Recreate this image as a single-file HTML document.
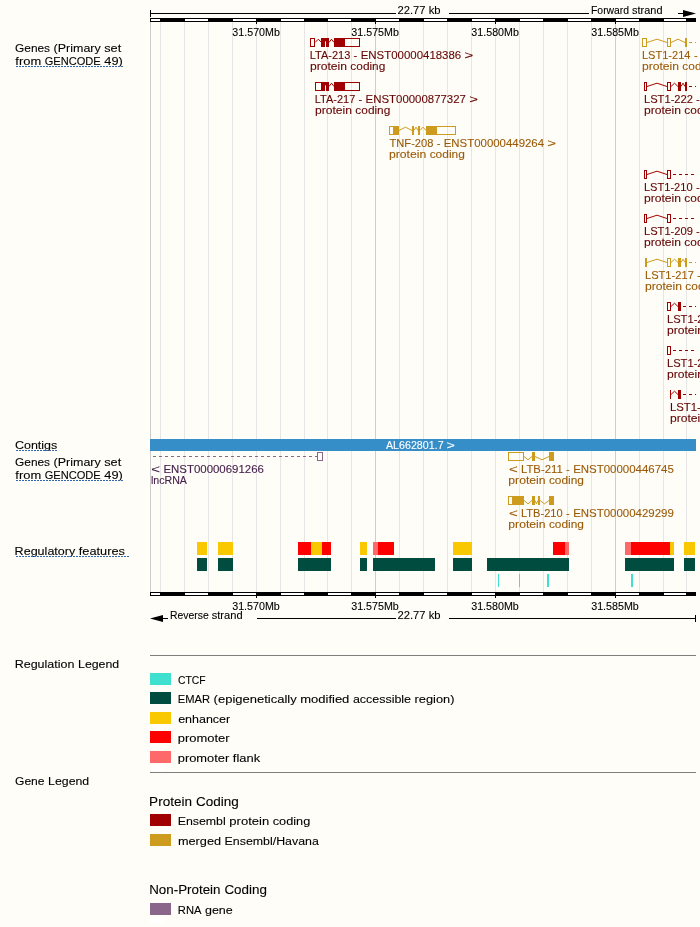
<!DOCTYPE html>
<html><head><meta charset="utf-8"><title>Region in detail</title>
<style>
html,body{margin:0;padding:0;background:#FFFDF7;}
svg{display:block;font-family:"Liberation Sans",sans-serif;will-change:transform;}
text{font-family:"Liberation Sans",sans-serif;}
</style></head><body>
<svg width="700" height="927" viewBox="0 0 700 927">
<rect x="0" y="0" width="700" height="927" fill="#FFFDF7"/>
<g shape-rendering="crispEdges">
<rect x="150" y="22" width="1" height="570" fill="#CECECE" />
<rect x="160" y="22" width="1" height="570" fill="#E6E6E6" />
<rect x="184" y="22" width="1" height="570" fill="#E6E6E6" />
<rect x="208" y="22" width="1" height="570" fill="#E6E6E6" />
<rect x="232" y="22" width="1" height="570" fill="#E6E6E6" />
<rect x="256" y="22" width="1" height="570" fill="#E6E6E6" />
<rect x="280" y="22" width="1" height="570" fill="#E6E6E6" />
<rect x="304" y="22" width="1" height="570" fill="#E6E6E6" />
<rect x="327" y="22" width="1" height="570" fill="#E6E6E6" />
<rect x="351" y="22" width="1" height="570" fill="#E6E6E6" />
<rect x="375" y="22" width="1" height="570" fill="#CECECE" />
<rect x="399" y="22" width="1" height="570" fill="#E6E6E6" />
<rect x="423" y="22" width="1" height="570" fill="#E6E6E6" />
<rect x="447" y="22" width="1" height="570" fill="#E6E6E6" />
<rect x="471" y="22" width="1" height="570" fill="#E6E6E6" />
<rect x="495" y="22" width="1" height="570" fill="#E6E6E6" />
<rect x="519" y="22" width="1" height="570" fill="#E6E6E6" />
<rect x="543" y="22" width="1" height="570" fill="#E6E6E6" />
<rect x="567" y="22" width="1" height="570" fill="#E6E6E6" />
<rect x="591" y="22" width="1" height="570" fill="#E6E6E6" />
<rect x="615" y="22" width="1" height="570" fill="#CECECE" />
<rect x="639" y="22" width="1" height="570" fill="#E6E6E6" />
<rect x="663" y="22" width="1" height="570" fill="#E6E6E6" />
<rect x="686" y="22" width="1" height="570" fill="#E6E6E6" />
<rect x="150" y="18" width="546" height="4" fill="#000" />
<rect x="151" y="19" width="9" height="2" fill="#fff" />
<rect x="185" y="19" width="23" height="2" fill="#fff" />
<rect x="233" y="19" width="23" height="2" fill="#fff" />
<rect x="281" y="19" width="23" height="2" fill="#fff" />
<rect x="328" y="19" width="23" height="2" fill="#fff" />
<rect x="376" y="19" width="23" height="2" fill="#fff" />
<rect x="424" y="19" width="23" height="2" fill="#fff" />
<rect x="472" y="19" width="23" height="2" fill="#fff" />
<rect x="520" y="19" width="23" height="2" fill="#fff" />
<rect x="568" y="19" width="23" height="2" fill="#fff" />
<rect x="616" y="19" width="23" height="2" fill="#fff" />
<rect x="664" y="19" width="22" height="2" fill="#fff" />
<rect x="150" y="592" width="546" height="4" fill="#000" />
<rect x="151" y="593" width="9" height="2" fill="#fff" />
<rect x="185" y="593" width="23" height="2" fill="#fff" />
<rect x="233" y="593" width="23" height="2" fill="#fff" />
<rect x="281" y="593" width="23" height="2" fill="#fff" />
<rect x="328" y="593" width="23" height="2" fill="#fff" />
<rect x="376" y="593" width="23" height="2" fill="#fff" />
<rect x="424" y="593" width="23" height="2" fill="#fff" />
<rect x="472" y="593" width="23" height="2" fill="#fff" />
<rect x="520" y="593" width="23" height="2" fill="#fff" />
<rect x="568" y="593" width="23" height="2" fill="#fff" />
<rect x="616" y="593" width="23" height="2" fill="#fff" />
<rect x="664" y="593" width="22" height="2" fill="#fff" />
<rect x="256" y="22" width="1" height="2" fill="#000" />
<rect x="256" y="596" width="1" height="2" fill="#000" />
<rect x="375" y="22" width="1" height="2" fill="#000" />
<rect x="375" y="596" width="1" height="2" fill="#000" />
<rect x="495" y="22" width="1" height="2" fill="#000" />
<rect x="495" y="596" width="1" height="2" fill="#000" />
<rect x="615" y="22" width="1" height="2" fill="#000" />
<rect x="615" y="596" width="1" height="2" fill="#000" />
<rect x="150" y="10" width="1" height="7" fill="#000" />
<rect x="150" y="13" width="246" height="1" fill="#000" />
<rect x="449" y="13" width="140" height="1" fill="#000" />
<rect x="678" y="13" width="6" height="1" fill="#000" />
<rect x="695" y="615" width="1" height="7" fill="#000" />
<rect x="449" y="618" width="247" height="1" fill="#000" />
<rect x="257" y="618" width="139" height="1" fill="#000" />
<rect x="162" y="618" width="6" height="1" fill="#000" />
</g>
<polygon points="683,10 696,13.5 683,17" fill="#000"/>
<polygon points="163,615 150,618.5 163,622" fill="#000"/>
<text x="232.36" y="36" font-size="10.54" fill="#000" textLength="47.46" lengthAdjust="spacingAndGlyphs" stroke="#000" stroke-width="0.1" >31.570Mb</text>
<text x="232.21" y="610" font-size="10.54" fill="#000" textLength="47.61" lengthAdjust="spacingAndGlyphs" stroke="#000" stroke-width="0.1" >31.570Mb</text>
<text x="351.36" y="36" font-size="10.54" fill="#000" textLength="47.46" lengthAdjust="spacingAndGlyphs" stroke="#000" stroke-width="0.1" >31.575Mb</text>
<text x="351.21" y="610" font-size="10.54" fill="#000" textLength="47.61" lengthAdjust="spacingAndGlyphs" stroke="#000" stroke-width="0.1" >31.575Mb</text>
<text x="471.36" y="36" font-size="10.54" fill="#000" textLength="47.46" lengthAdjust="spacingAndGlyphs" stroke="#000" stroke-width="0.1" >31.580Mb</text>
<text x="471.21" y="610" font-size="10.54" fill="#000" textLength="47.61" lengthAdjust="spacingAndGlyphs" stroke="#000" stroke-width="0.1" >31.580Mb</text>
<text x="591.36" y="36" font-size="10.54" fill="#000" textLength="47.46" lengthAdjust="spacingAndGlyphs" stroke="#000" stroke-width="0.1" >31.585Mb</text>
<text x="591.21" y="610" font-size="10.54" fill="#000" textLength="47.61" lengthAdjust="spacingAndGlyphs" stroke="#000" stroke-width="0.1" >31.585Mb</text>
<text x="397.50" y="14" font-size="10.54" fill="#000" textLength="28.04" lengthAdjust="spacingAndGlyphs" stroke="#000" stroke-width="0.1" >22.77</text>
<text x="428.65" y="14" font-size="10.54" fill="#000" textLength="11.89" lengthAdjust="spacingAndGlyphs" stroke="#000" stroke-width="0.1" >kb</text>
<text x="397.50" y="619" font-size="10.54" fill="#000" textLength="28.04" lengthAdjust="spacingAndGlyphs" stroke="#000" stroke-width="0.1" >22.77</text>
<text x="428.65" y="619" font-size="10.54" fill="#000" textLength="11.89" lengthAdjust="spacingAndGlyphs" stroke="#000" stroke-width="0.1" >kb</text>
<text x="591.03" y="14" font-size="10.54" fill="#000" textLength="38.07" lengthAdjust="spacingAndGlyphs" stroke="#000" stroke-width="0.1" >Forward</text>
<text x="632.11" y="14" font-size="10.54" fill="#000" textLength="30.35" lengthAdjust="spacingAndGlyphs" stroke="#000" stroke-width="0.1" >strand</text>
<text x="170.00" y="619" font-size="10.54" fill="#000" textLength="38.67" lengthAdjust="spacingAndGlyphs" stroke="#000" stroke-width="0.1" >Reverse</text>
<text x="211.73" y="619" font-size="10.54" fill="#000" textLength="30.85" lengthAdjust="spacingAndGlyphs" stroke="#000" stroke-width="0.1" >strand</text>
<text x="15.04" y="52" font-size="11.66" fill="#000" textLength="35.03" lengthAdjust="spacingAndGlyphs" stroke="#000" stroke-width="0.1" >Genes</text>
<text x="53.59" y="52" font-size="11.66" fill="#000" textLength="47.15" lengthAdjust="spacingAndGlyphs" stroke="#000" stroke-width="0.1" >(Primary</text>
<text x="104.27" y="52" font-size="11.66" fill="#000" textLength="16.94" lengthAdjust="spacingAndGlyphs" stroke="#000" stroke-width="0.1" >set</text>
<text x="15.37" y="65" font-size="11.66" fill="#000" textLength="25.85" lengthAdjust="spacingAndGlyphs" stroke="#000" stroke-width="0.1" >from</text>
<text x="44.75" y="65" font-size="11.66" fill="#000" textLength="56.01" lengthAdjust="spacingAndGlyphs" stroke="#000" stroke-width="0.1" >GENCODE</text>
<text x="104.29" y="65" font-size="11.66" fill="#000" textLength="18.47" lengthAdjust="spacingAndGlyphs" stroke="#000" stroke-width="0.1" >49)</text>
<line x1="16" y1="66.5" x2="123" y2="66.5" stroke="#3568B2" stroke-width="1" stroke-dasharray="2 1" shape-rendering="crispEdges"/>
<text x="14.99" y="449" font-size="11.66" fill="#000" textLength="42.30" lengthAdjust="spacingAndGlyphs" stroke="#000" stroke-width="0.1" >Contigs</text>
<line x1="16" y1="450.5" x2="57" y2="450.5" stroke="#3568B2" stroke-width="1" stroke-dasharray="2 1" shape-rendering="crispEdges"/>
<text x="15.04" y="466" font-size="11.66" fill="#000" textLength="35.03" lengthAdjust="spacingAndGlyphs" stroke="#000" stroke-width="0.1" >Genes</text>
<text x="53.59" y="466" font-size="11.66" fill="#000" textLength="47.15" lengthAdjust="spacingAndGlyphs" stroke="#000" stroke-width="0.1" >(Primary</text>
<text x="104.27" y="466" font-size="11.66" fill="#000" textLength="16.94" lengthAdjust="spacingAndGlyphs" stroke="#000" stroke-width="0.1" >set</text>
<text x="15.37" y="479" font-size="11.66" fill="#000" textLength="25.85" lengthAdjust="spacingAndGlyphs" stroke="#000" stroke-width="0.1" >from</text>
<text x="44.75" y="479" font-size="11.66" fill="#000" textLength="56.01" lengthAdjust="spacingAndGlyphs" stroke="#000" stroke-width="0.1" >GENCODE</text>
<text x="104.29" y="479" font-size="11.66" fill="#000" textLength="18.47" lengthAdjust="spacingAndGlyphs" stroke="#000" stroke-width="0.1" >49)</text>
<line x1="16" y1="480.5" x2="123" y2="480.5" stroke="#3568B2" stroke-width="1" stroke-dasharray="2 1" shape-rendering="crispEdges"/>
<text x="14.64" y="555" font-size="11.66" fill="#000" textLength="60.63" lengthAdjust="spacingAndGlyphs" stroke="#000" stroke-width="0.1" >Regulatory</text>
<text x="78.82" y="555" font-size="11.66" fill="#000" textLength="46.12" lengthAdjust="spacingAndGlyphs" stroke="#000" stroke-width="0.1" >features</text>
<line x1="16" y1="556.5" x2="129" y2="556.5" stroke="#3568B2" stroke-width="1" stroke-dasharray="2 1" shape-rendering="crispEdges"/>
<text x="14.65" y="668" font-size="11.66" fill="#000" textLength="59.84" lengthAdjust="spacingAndGlyphs" stroke="#000" stroke-width="0.1" >Regulation</text>
<text x="78.05" y="668" font-size="11.66" fill="#000" textLength="41.16" lengthAdjust="spacingAndGlyphs" stroke="#000" stroke-width="0.1" >Legend</text>
<text x="15.03" y="785" font-size="11.66" fill="#000" textLength="29.52" lengthAdjust="spacingAndGlyphs" stroke="#000" stroke-width="0.1" >Gene</text>
<text x="48.10" y="785" font-size="11.66" fill="#000" textLength="41.08" lengthAdjust="spacingAndGlyphs" stroke="#000" stroke-width="0.1" >Legend</text>
<g shape-rendering="crispEdges">
<rect x="310.5" y="38.5" width="4" height="8" fill="none" stroke="#A00000" stroke-width="1"/>
<polyline points="315,42.5 318.3,39.2 321.6,42.5" fill="none" stroke="#A00000" stroke-width="1" shape-rendering="geometricPrecision"/>
<rect x="321" y="38" width="4" height="9" fill="#A00000" />
<rect x="325" y="38" width="1" height="3" fill="#A00000" />
<rect x="325" y="41" width="1" height="1" fill="#D48A8A" />
<rect x="326" y="38" width="3" height="9" fill="#A00000" />
<polyline points="329,42.5 331.5,39.2 334,42.5" fill="none" stroke="#A00000" stroke-width="1" shape-rendering="geometricPrecision"/>
<rect x="334" y="38" width="11" height="9" fill="#A00000" />
<rect x="344.5" y="38.5" width="15" height="8" fill="none" stroke="#A00000" stroke-width="1"/>
<rect x="315.5" y="82.5" width="6" height="8" fill="none" stroke="#A00000" stroke-width="1"/>
<rect x="321" y="82" width="4" height="9" fill="#A00000" />
<rect x="325" y="82" width="1" height="3" fill="#A00000" />
<rect x="325" y="85" width="1" height="1" fill="#D48A8A" />
<rect x="326" y="82" width="3" height="9" fill="#A00000" />
<polyline points="329,86.5 331.5,83.2 334,86.5" fill="none" stroke="#A00000" stroke-width="1" shape-rendering="geometricPrecision"/>
<rect x="334" y="82" width="11" height="9" fill="#A00000" />
<rect x="344.5" y="82.5" width="15" height="8" fill="none" stroke="#A00000" stroke-width="1"/>
<rect x="389.5" y="126.5" width="4" height="8" fill="none" stroke="#CD9B1D" stroke-width="1"/>
<rect x="393" y="126" width="6" height="9" fill="#CD9B1D" />
<polyline points="399,130.5 405.5,127.2 412,130.5" fill="none" stroke="#CD9B1D" stroke-width="1" shape-rendering="geometricPrecision"/>
<rect x="412" y="126" width="2" height="9" fill="#CD9B1D" />
<polyline points="414,130.5 416,127.2 418,130.5" fill="none" stroke="#CD9B1D" stroke-width="1" shape-rendering="geometricPrecision"/>
<rect x="418" y="126" width="2" height="9" fill="#CD9B1D" />
<polyline points="420,130.5 423,127.2 426,130.5" fill="none" stroke="#CD9B1D" stroke-width="1" shape-rendering="geometricPrecision"/>
<rect x="426" y="126" width="11" height="9" fill="#CD9B1D" />
<rect x="436.5" y="126.5" width="19" height="8" fill="none" stroke="#CD9B1D" stroke-width="1"/>
<rect x="642.5" y="38.5" width="4" height="8" fill="none" stroke="#CD9B1D" stroke-width="1"/>
<polyline points="647,42.5 657,39.2 667,42.5" fill="none" stroke="#CD9B1D" stroke-width="1" shape-rendering="geometricPrecision"/>
<rect x="667.5" y="38.5" width="3" height="8" fill="none" stroke="#CD9B1D" stroke-width="1"/>
<polyline points="671,42.5 678,39.2 685,42.5" fill="none" stroke="#CD9B1D" stroke-width="1" shape-rendering="geometricPrecision"/>
<rect x="685" y="38" width="2" height="9" fill="#CD9B1D" />
<rect x="689" y="42" width="3" height="1" fill="#CD9B1D" />
<rect x="695" y="42" width="1" height="1" fill="#CD9B1D" />
<rect x="644.5" y="82.5" width="2" height="8" fill="none" stroke="#A00000" stroke-width="1"/>
<polyline points="647,86.5 657,83.2 667,86.5" fill="none" stroke="#A00000" stroke-width="1" shape-rendering="geometricPrecision"/>
<rect x="667.5" y="82.5" width="3" height="8" fill="none" stroke="#A00000" stroke-width="1"/>
<polyline points="671,86.5 674.5,83.2 678,86.5" fill="none" stroke="#A00000" stroke-width="1" shape-rendering="geometricPrecision"/>
<rect x="678" y="82" width="3" height="9" fill="#A00000" />
<polyline points="681,86.5 683,83.2 685,86.5" fill="none" stroke="#A00000" stroke-width="1" shape-rendering="geometricPrecision"/>
<rect x="685" y="82" width="2" height="9" fill="#A00000" />
<rect x="689" y="86" width="3" height="1" fill="#A00000" />
<rect x="695" y="86" width="1" height="1" fill="#A00000" />
<rect x="644.5" y="170.5" width="2" height="8" fill="none" stroke="#A00000" stroke-width="1"/>
<polyline points="647,174.5 657,171.2 667,174.5" fill="none" stroke="#A00000" stroke-width="1" shape-rendering="geometricPrecision"/>
<rect x="667.5" y="170.5" width="3" height="8" fill="none" stroke="#A00000" stroke-width="1"/>
<rect x="673" y="174" width="3" height="1" fill="#A00000" />
<rect x="679" y="174" width="3" height="1" fill="#A00000" />
<rect x="685" y="174" width="3" height="1" fill="#A00000" />
<rect x="691" y="174" width="3" height="1" fill="#A00000" />
<rect x="644.5" y="214.5" width="2" height="8" fill="none" stroke="#A00000" stroke-width="1"/>
<polyline points="647,218.5 657,215.2 667,218.5" fill="none" stroke="#A00000" stroke-width="1" shape-rendering="geometricPrecision"/>
<rect x="667.5" y="214.5" width="3" height="8" fill="none" stroke="#A00000" stroke-width="1"/>
<rect x="673" y="218" width="3" height="1" fill="#A00000" />
<rect x="679" y="218" width="3" height="1" fill="#A00000" />
<rect x="685" y="218" width="3" height="1" fill="#A00000" />
<rect x="691" y="218" width="3" height="1" fill="#A00000" />
<rect x="645" y="258" width="2" height="9" fill="#CD9B1D" />
<polyline points="647,262.5 657,259.2 667,262.5" fill="none" stroke="#CD9B1D" stroke-width="1" shape-rendering="geometricPrecision"/>
<rect x="667.5" y="258.5" width="3" height="8" fill="none" stroke="#CD9B1D" stroke-width="1"/>
<polyline points="671,262.5 674.5,259.2 678,262.5" fill="none" stroke="#CD9B1D" stroke-width="1" shape-rendering="geometricPrecision"/>
<rect x="678" y="258" width="3" height="9" fill="#CD9B1D" />
<polyline points="681,262.5 683,259.2 685,262.5" fill="none" stroke="#CD9B1D" stroke-width="1" shape-rendering="geometricPrecision"/>
<rect x="685" y="258" width="2" height="9" fill="#CD9B1D" />
<rect x="689" y="262" width="3" height="1" fill="#CD9B1D" />
<rect x="695" y="262" width="1" height="1" fill="#CD9B1D" />
<rect x="667.5" y="302.5" width="3" height="8" fill="none" stroke="#A00000" stroke-width="1"/>
<polyline points="671,306.5 674.5,303.2 678,306.5" fill="none" stroke="#A00000" stroke-width="1" shape-rendering="geometricPrecision"/>
<rect x="678" y="302" width="3" height="9" fill="#A00000" />
<rect x="683" y="306" width="3" height="1" fill="#A00000" />
<rect x="689" y="306" width="3" height="1" fill="#A00000" />
<rect x="695" y="306" width="1" height="1" fill="#A00000" />
<rect x="667.5" y="346.5" width="3" height="8" fill="none" stroke="#A00000" stroke-width="1"/>
<rect x="673" y="350" width="3" height="1" fill="#A00000" />
<rect x="679" y="350" width="3" height="1" fill="#A00000" />
<rect x="685" y="350" width="3" height="1" fill="#A00000" />
<rect x="691" y="350" width="3" height="1" fill="#A00000" />
<rect x="670" y="390" width="1" height="9" fill="#A00000" />
<polyline points="671,394.5 674.5,391.2 678,394.5" fill="none" stroke="#A00000" stroke-width="1" shape-rendering="geometricPrecision"/>
<rect x="678" y="390" width="3" height="9" fill="#A00000" />
<rect x="683" y="394" width="3" height="1" fill="#A00000" />
<rect x="689" y="394" width="3" height="1" fill="#A00000" />
<rect x="695" y="394" width="1" height="1" fill="#A00000" />
<rect x="150" y="439" width="546" height="12" fill="#368EC9" />
<rect x="153" y="456" width="3" height="1" fill="#8B668B" />
<rect x="159" y="456" width="3" height="1" fill="#8B668B" />
<rect x="165" y="456" width="3" height="1" fill="#8B668B" />
<rect x="171" y="456" width="3" height="1" fill="#8B668B" />
<rect x="177" y="456" width="3" height="1" fill="#8B668B" />
<rect x="183" y="456" width="3" height="1" fill="#8B668B" />
<rect x="189" y="456" width="3" height="1" fill="#8B668B" />
<rect x="195" y="456" width="3" height="1" fill="#8B668B" />
<rect x="201" y="456" width="3" height="1" fill="#8B668B" />
<rect x="207" y="456" width="3" height="1" fill="#8B668B" />
<rect x="213" y="456" width="3" height="1" fill="#8B668B" />
<rect x="219" y="456" width="3" height="1" fill="#8B668B" />
<rect x="225" y="456" width="3" height="1" fill="#8B668B" />
<rect x="231" y="456" width="3" height="1" fill="#8B668B" />
<rect x="237" y="456" width="3" height="1" fill="#8B668B" />
<rect x="243" y="456" width="3" height="1" fill="#8B668B" />
<rect x="249" y="456" width="3" height="1" fill="#8B668B" />
<rect x="255" y="456" width="3" height="1" fill="#8B668B" />
<rect x="261" y="456" width="3" height="1" fill="#8B668B" />
<rect x="267" y="456" width="3" height="1" fill="#8B668B" />
<rect x="273" y="456" width="3" height="1" fill="#8B668B" />
<rect x="279" y="456" width="3" height="1" fill="#8B668B" />
<rect x="285" y="456" width="3" height="1" fill="#8B668B" />
<rect x="291" y="456" width="3" height="1" fill="#8B668B" />
<rect x="297" y="456" width="3" height="1" fill="#8B668B" />
<rect x="303" y="456" width="3" height="1" fill="#8B668B" />
<rect x="309" y="456" width="3" height="1" fill="#8B668B" />
<rect x="315" y="456" width="3" height="1" fill="#8B668B" />
<rect x="317.5" y="452.5" width="5" height="8" fill="none" stroke="#8B668B" stroke-width="1"/>
<rect x="508.5" y="452.5" width="15" height="8" fill="none" stroke="#CD9B1D" stroke-width="1"/>
<polyline points="524,456.5 528,459.8 532,456.5" fill="none" stroke="#CD9B1D" stroke-width="1" shape-rendering="geometricPrecision"/>
<rect x="532" y="452" width="3" height="9" fill="#CD9B1D" />
<polyline points="535,456.5 542,459.8 549,456.5" fill="none" stroke="#CD9B1D" stroke-width="1" shape-rendering="geometricPrecision"/>
<rect x="549" y="452" width="5" height="9" fill="#CD9B1D" />
<rect x="508.5" y="496.5" width="4" height="8" fill="none" stroke="#CD9B1D" stroke-width="1"/>
<rect x="512" y="496" width="12" height="9" fill="#CD9B1D" />
<polyline points="524,500.5 528,503.8 532,500.5" fill="none" stroke="#CD9B1D" stroke-width="1" shape-rendering="geometricPrecision"/>
<rect x="532" y="496" width="3" height="9" fill="#CD9B1D" />
<polyline points="535,500.5 536.5,503.8 538,500.5" fill="none" stroke="#CD9B1D" stroke-width="1" shape-rendering="geometricPrecision"/>
<rect x="538" y="496" width="2" height="9" fill="#CD9B1D" />
<polyline points="540,500.5 544.5,503.8 549,500.5" fill="none" stroke="#CD9B1D" stroke-width="1" shape-rendering="geometricPrecision"/>
<rect x="549" y="496" width="5" height="9" fill="#CD9B1D" />
<rect x="197" y="542" width="10" height="13" fill="#FAC800" />
<rect x="218" y="542" width="15" height="13" fill="#FAC800" />
<rect x="298" y="542" width="13" height="13" fill="#FF0000" />
<rect x="311" y="542" width="11" height="13" fill="#FAC800" />
<rect x="322" y="542" width="9" height="13" fill="#FF0000" />
<rect x="360" y="542" width="7" height="13" fill="#FAC800" />
<rect x="373" y="542" width="5" height="13" fill="#FF6969" />
<rect x="378" y="542" width="16" height="13" fill="#FF0000" />
<rect x="453" y="542" width="19" height="13" fill="#FAC800" />
<rect x="553" y="542" width="12" height="13" fill="#FF0000" />
<rect x="565" y="542" width="4" height="13" fill="#FF6969" />
<rect x="625" y="542" width="6" height="13" fill="#FF6969" />
<rect x="631" y="542" width="39" height="13" fill="#FF0000" />
<rect x="670" y="542" width="4" height="13" fill="#FAC800" />
<rect x="684" y="542" width="11" height="13" fill="#FAC800" />
<rect x="197" y="558" width="10" height="13" fill="#004D40" />
<rect x="218" y="558" width="15" height="13" fill="#004D40" />
<rect x="298" y="558" width="33" height="13" fill="#004D40" />
<rect x="360" y="558" width="7" height="13" fill="#004D40" />
<rect x="373" y="558" width="62" height="13" fill="#004D40" />
<rect x="453" y="558" width="19" height="13" fill="#004D40" />
<rect x="487" y="558" width="82" height="13" fill="#004D40" />
<rect x="625" y="558" width="49" height="13" fill="#004D40" />
<rect x="684" y="558" width="11" height="13" fill="#004D40" />
<rect x="498" y="574" width="1" height="13" fill="#40E0D0" />
<rect x="519" y="574" width="1" height="13" fill="#40E0D0" />
<rect x="547" y="574" width="2" height="13" fill="#40E0D0" />
<rect x="631" y="574" width="2" height="13" fill="#40E0D0" />
<rect x="150" y="655" width="546" height="1" fill="#7F7F7F" />
<rect x="150" y="772" width="546" height="1" fill="#7F7F7F" />
<rect x="150" y="673" width="21" height="12" fill="#40E0D0" />
<rect x="150" y="692" width="21" height="12" fill="#004D40" />
<rect x="150" y="712" width="21" height="12" fill="#FAC800" />
<rect x="150" y="731" width="21" height="12" fill="#FF0000" />
<rect x="150" y="751" width="21" height="12" fill="#FF6969" />
<rect x="150" y="766" width="14" height="5" fill="#fff" />
<rect x="150" y="918" width="14" height="5" fill="#fff" />
<rect x="150" y="814" width="21" height="12" fill="#A00000" />
<rect x="150" y="834" width="21" height="12" fill="#CD9B1D" />
<rect x="150" y="903" width="21" height="12" fill="#8B668B" />
</g>
<text x="309.77" y="59" font-size="11.02" fill="#640404" textLength="40.55" lengthAdjust="spacingAndGlyphs" stroke="#640404" stroke-width="0.1" >LTA-213</text>
<text x="353.64" y="59" font-size="11.02" fill="#640404" textLength="3.77" lengthAdjust="spacingAndGlyphs" stroke="#640404" stroke-width="0.1" >-</text>
<text x="360.73" y="59" font-size="11.02" fill="#640404" textLength="100.47" lengthAdjust="spacingAndGlyphs" stroke="#640404" stroke-width="0.1" >ENST00000418386</text>
<text x="464.52" y="59" font-size="11.02" fill="#640404" textLength="8.75" lengthAdjust="spacingAndGlyphs" stroke="#640404" stroke-width="0.1" >&gt;</text>
<text x="309.92" y="70" font-size="11.02" fill="#640404" textLength="37.15" lengthAdjust="spacingAndGlyphs" stroke="#640404" stroke-width="0.1" >protein</text>
<text x="350.39" y="70" font-size="11.02" fill="#640404" textLength="34.94" lengthAdjust="spacingAndGlyphs" stroke="#640404" stroke-width="0.1" >coding</text>
<text x="314.77" y="103" font-size="11.02" fill="#640404" textLength="40.48" lengthAdjust="spacingAndGlyphs" stroke="#640404" stroke-width="0.1" >LTA-217</text>
<text x="358.57" y="103" font-size="11.02" fill="#640404" textLength="3.76" lengthAdjust="spacingAndGlyphs" stroke="#640404" stroke-width="0.1" >-</text>
<text x="365.64" y="103" font-size="11.02" fill="#640404" textLength="100.30" lengthAdjust="spacingAndGlyphs" stroke="#640404" stroke-width="0.1" >ENST00000877327</text>
<text x="469.25" y="103" font-size="11.02" fill="#640404" textLength="8.73" lengthAdjust="spacingAndGlyphs" stroke="#640404" stroke-width="0.1" >&gt;</text>
<text x="314.92" y="114" font-size="11.02" fill="#640404" textLength="37.15" lengthAdjust="spacingAndGlyphs" stroke="#640404" stroke-width="0.1" >protein</text>
<text x="355.39" y="114" font-size="11.02" fill="#640404" textLength="34.94" lengthAdjust="spacingAndGlyphs" stroke="#640404" stroke-width="0.1" >coding</text>
<text x="389.56" y="147" font-size="11.02" fill="#9A5A08" textLength="43.81" lengthAdjust="spacingAndGlyphs" stroke="#9A5A08" stroke-width="0.1" >TNF-208</text>
<text x="436.69" y="147" font-size="11.02" fill="#9A5A08" textLength="3.76" lengthAdjust="spacingAndGlyphs" stroke="#9A5A08" stroke-width="0.1" >-</text>
<text x="443.76" y="147" font-size="11.02" fill="#9A5A08" textLength="100.31" lengthAdjust="spacingAndGlyphs" stroke="#9A5A08" stroke-width="0.1" >ENST00000449264</text>
<text x="547.38" y="147" font-size="11.02" fill="#9A5A08" textLength="8.73" lengthAdjust="spacingAndGlyphs" stroke="#9A5A08" stroke-width="0.1" >&gt;</text>
<text x="388.96" y="158" font-size="11.02" fill="#9A5A08" textLength="37.37" lengthAdjust="spacingAndGlyphs" stroke="#9A5A08" stroke-width="0.1" >protein</text>
<text x="429.67" y="158" font-size="11.02" fill="#9A5A08" textLength="35.14" lengthAdjust="spacingAndGlyphs" stroke="#9A5A08" stroke-width="0.1" >coding</text>
<text x="641.97" y="59" font-size="11.02" fill="#9A5A08" textLength="48.52" lengthAdjust="spacingAndGlyphs" stroke="#9A5A08" stroke-width="0.1" >LST1-214</text>
<text x="693.90" y="59" font-size="11.02" fill="#9A5A08" textLength="3.75" lengthAdjust="spacingAndGlyphs" stroke="#9A5A08" stroke-width="0.1" >-</text>
<text x="700.96" y="59" font-size="11.02" fill="#9A5A08" textLength="100.07" lengthAdjust="spacingAndGlyphs" stroke="#9A5A08" stroke-width="0.1" >ENST00000376093</text>
<text x="804.33" y="59" font-size="11.02" fill="#9A5A08" textLength="8.71" lengthAdjust="spacingAndGlyphs" stroke="#9A5A08" stroke-width="0.1" >&gt;</text>
<text x="641.92" y="70" font-size="11.02" fill="#9A5A08" textLength="37.15" lengthAdjust="spacingAndGlyphs" stroke="#9A5A08" stroke-width="0.1" >protein</text>
<text x="682.39" y="70" font-size="11.02" fill="#9A5A08" textLength="34.94" lengthAdjust="spacingAndGlyphs" stroke="#9A5A08" stroke-width="0.1" >coding</text>
<text x="643.97" y="103" font-size="11.02" fill="#640404" textLength="49.00" lengthAdjust="spacingAndGlyphs" stroke="#640404" stroke-width="0.1" >LST1-222</text>
<text x="695.90" y="103" font-size="11.02" fill="#640404" textLength="3.75" lengthAdjust="spacingAndGlyphs" stroke="#640404" stroke-width="0.1" >-</text>
<text x="702.96" y="103" font-size="11.02" fill="#640404" textLength="100.07" lengthAdjust="spacingAndGlyphs" stroke="#640404" stroke-width="0.1" >ENST00000376110</text>
<text x="806.33" y="103" font-size="11.02" fill="#640404" textLength="8.71" lengthAdjust="spacingAndGlyphs" stroke="#640404" stroke-width="0.1" >&gt;</text>
<text x="643.92" y="114" font-size="11.02" fill="#640404" textLength="37.15" lengthAdjust="spacingAndGlyphs" stroke="#640404" stroke-width="0.1" >protein</text>
<text x="684.39" y="114" font-size="11.02" fill="#640404" textLength="34.94" lengthAdjust="spacingAndGlyphs" stroke="#640404" stroke-width="0.1" >coding</text>
<text x="643.96" y="191" font-size="11.02" fill="#640404" textLength="48.62" lengthAdjust="spacingAndGlyphs" stroke="#640404" stroke-width="0.1" >LST1-210</text>
<text x="695.90" y="191" font-size="11.02" fill="#640404" textLength="3.75" lengthAdjust="spacingAndGlyphs" stroke="#640404" stroke-width="0.1" >-</text>
<text x="702.96" y="191" font-size="11.02" fill="#640404" textLength="100.07" lengthAdjust="spacingAndGlyphs" stroke="#640404" stroke-width="0.1" >ENST00000376092</text>
<text x="806.33" y="191" font-size="11.02" fill="#640404" textLength="8.71" lengthAdjust="spacingAndGlyphs" stroke="#640404" stroke-width="0.1" >&gt;</text>
<text x="643.92" y="202" font-size="11.02" fill="#640404" textLength="37.15" lengthAdjust="spacingAndGlyphs" stroke="#640404" stroke-width="0.1" >protein</text>
<text x="684.39" y="202" font-size="11.02" fill="#640404" textLength="34.94" lengthAdjust="spacingAndGlyphs" stroke="#640404" stroke-width="0.1" >coding</text>
<text x="643.97" y="235" font-size="11.02" fill="#640404" textLength="48.91" lengthAdjust="spacingAndGlyphs" stroke="#640404" stroke-width="0.1" >LST1-209</text>
<text x="695.90" y="235" font-size="11.02" fill="#640404" textLength="3.75" lengthAdjust="spacingAndGlyphs" stroke="#640404" stroke-width="0.1" >-</text>
<text x="702.96" y="235" font-size="11.02" fill="#640404" textLength="100.07" lengthAdjust="spacingAndGlyphs" stroke="#640404" stroke-width="0.1" >ENST00000376090</text>
<text x="806.33" y="235" font-size="11.02" fill="#640404" textLength="8.71" lengthAdjust="spacingAndGlyphs" stroke="#640404" stroke-width="0.1" >&gt;</text>
<text x="643.92" y="246" font-size="11.02" fill="#640404" textLength="37.15" lengthAdjust="spacingAndGlyphs" stroke="#640404" stroke-width="0.1" >protein</text>
<text x="684.39" y="246" font-size="11.02" fill="#640404" textLength="34.94" lengthAdjust="spacingAndGlyphs" stroke="#640404" stroke-width="0.1" >coding</text>
<text x="644.98" y="279" font-size="11.02" fill="#9A5A08" textLength="48.87" lengthAdjust="spacingAndGlyphs" stroke="#9A5A08" stroke-width="0.1" >LST1-217</text>
<text x="696.90" y="279" font-size="11.02" fill="#9A5A08" textLength="3.75" lengthAdjust="spacingAndGlyphs" stroke="#9A5A08" stroke-width="0.1" >-</text>
<text x="703.96" y="279" font-size="11.02" fill="#9A5A08" textLength="100.07" lengthAdjust="spacingAndGlyphs" stroke="#9A5A08" stroke-width="0.1" >ENST00000438075</text>
<text x="807.33" y="279" font-size="11.02" fill="#9A5A08" textLength="8.71" lengthAdjust="spacingAndGlyphs" stroke="#9A5A08" stroke-width="0.1" >&gt;</text>
<text x="644.92" y="290" font-size="11.02" fill="#9A5A08" textLength="37.15" lengthAdjust="spacingAndGlyphs" stroke="#9A5A08" stroke-width="0.1" >protein</text>
<text x="685.39" y="290" font-size="11.02" fill="#9A5A08" textLength="34.94" lengthAdjust="spacingAndGlyphs" stroke="#9A5A08" stroke-width="0.1" >coding</text>
<text x="666.97" y="323" font-size="11.02" fill="#640404" textLength="49.00" lengthAdjust="spacingAndGlyphs" stroke="#640404" stroke-width="0.1" >LST1-204</text>
<text x="718.90" y="323" font-size="11.02" fill="#640404" textLength="3.75" lengthAdjust="spacingAndGlyphs" stroke="#640404" stroke-width="0.1" >-</text>
<text x="725.96" y="323" font-size="11.02" fill="#640404" textLength="100.07" lengthAdjust="spacingAndGlyphs" stroke="#640404" stroke-width="0.1" >ENST00000339530</text>
<text x="829.33" y="323" font-size="11.02" fill="#640404" textLength="8.71" lengthAdjust="spacingAndGlyphs" stroke="#640404" stroke-width="0.1" >&gt;</text>
<text x="666.92" y="334" font-size="11.02" fill="#640404" textLength="37.15" lengthAdjust="spacingAndGlyphs" stroke="#640404" stroke-width="0.1" >protein</text>
<text x="707.39" y="334" font-size="11.02" fill="#640404" textLength="34.94" lengthAdjust="spacingAndGlyphs" stroke="#640404" stroke-width="0.1" >coding</text>
<text x="666.97" y="367" font-size="11.02" fill="#640404" textLength="49.00" lengthAdjust="spacingAndGlyphs" stroke="#640404" stroke-width="0.1" >LST1-215</text>
<text x="718.90" y="367" font-size="11.02" fill="#640404" textLength="3.75" lengthAdjust="spacingAndGlyphs" stroke="#640404" stroke-width="0.1" >-</text>
<text x="725.96" y="367" font-size="11.02" fill="#640404" textLength="100.07" lengthAdjust="spacingAndGlyphs" stroke="#640404" stroke-width="0.1" >ENST00000376096</text>
<text x="829.33" y="367" font-size="11.02" fill="#640404" textLength="8.71" lengthAdjust="spacingAndGlyphs" stroke="#640404" stroke-width="0.1" >&gt;</text>
<text x="666.92" y="378" font-size="11.02" fill="#640404" textLength="37.15" lengthAdjust="spacingAndGlyphs" stroke="#640404" stroke-width="0.1" >protein</text>
<text x="707.39" y="378" font-size="11.02" fill="#640404" textLength="34.94" lengthAdjust="spacingAndGlyphs" stroke="#640404" stroke-width="0.1" >coding</text>
<text x="669.97" y="411" font-size="11.02" fill="#640404" textLength="49.00" lengthAdjust="spacingAndGlyphs" stroke="#640404" stroke-width="0.1" >LST1-211</text>
<text x="721.90" y="411" font-size="11.02" fill="#640404" textLength="3.75" lengthAdjust="spacingAndGlyphs" stroke="#640404" stroke-width="0.1" >-</text>
<text x="728.96" y="411" font-size="11.02" fill="#640404" textLength="100.07" lengthAdjust="spacingAndGlyphs" stroke="#640404" stroke-width="0.1" >ENST00000376100</text>
<text x="832.33" y="411" font-size="11.02" fill="#640404" textLength="8.71" lengthAdjust="spacingAndGlyphs" stroke="#640404" stroke-width="0.1" >&gt;</text>
<text x="669.92" y="422" font-size="11.02" fill="#640404" textLength="37.15" lengthAdjust="spacingAndGlyphs" stroke="#640404" stroke-width="0.1" >protein</text>
<text x="710.39" y="422" font-size="11.02" fill="#640404" textLength="34.94" lengthAdjust="spacingAndGlyphs" stroke="#640404" stroke-width="0.1" >coding</text>
<text x="151.37" y="473" font-size="11.02" fill="#45204C" textLength="8.75" lengthAdjust="spacingAndGlyphs" stroke="#45204C" stroke-width="0.1" >&lt;</text>
<text x="163.43" y="473" font-size="11.02" fill="#45204C" textLength="100.44" lengthAdjust="spacingAndGlyphs" stroke="#45204C" stroke-width="0.1" >ENST00000691266</text>
<text x="150.93" y="484" font-size="11.02" fill="#45204C" textLength="35.96" lengthAdjust="spacingAndGlyphs" stroke="#45204C" stroke-width="0.1" >lncRNA</text>
<text x="508.91" y="473" font-size="11.02" fill="#9A5A08" textLength="8.77" lengthAdjust="spacingAndGlyphs" stroke="#9A5A08" stroke-width="0.1" >&lt;</text>
<text x="521.01" y="473" font-size="11.02" fill="#9A5A08" textLength="41.72" lengthAdjust="spacingAndGlyphs" stroke="#9A5A08" stroke-width="0.1" >LTB-211</text>
<text x="566.05" y="473" font-size="11.02" fill="#9A5A08" textLength="3.78" lengthAdjust="spacingAndGlyphs" stroke="#9A5A08" stroke-width="0.1" >-</text>
<text x="573.16" y="473" font-size="11.02" fill="#9A5A08" textLength="100.73" lengthAdjust="spacingAndGlyphs" stroke="#9A5A08" stroke-width="0.1" >ENST00000446745</text>
<text x="508.31" y="484" font-size="11.02" fill="#9A5A08" textLength="37.27" lengthAdjust="spacingAndGlyphs" stroke="#9A5A08" stroke-width="0.1" >protein</text>
<text x="548.91" y="484" font-size="11.02" fill="#9A5A08" textLength="35.05" lengthAdjust="spacingAndGlyphs" stroke="#9A5A08" stroke-width="0.1" >coding</text>
<text x="508.91" y="517" font-size="11.02" fill="#9A5A08" textLength="8.77" lengthAdjust="spacingAndGlyphs" stroke="#9A5A08" stroke-width="0.1" >&lt;</text>
<text x="521.01" y="517" font-size="11.02" fill="#9A5A08" textLength="41.71" lengthAdjust="spacingAndGlyphs" stroke="#9A5A08" stroke-width="0.1" >LTB-210</text>
<text x="566.04" y="517" font-size="11.02" fill="#9A5A08" textLength="3.78" lengthAdjust="spacingAndGlyphs" stroke="#9A5A08" stroke-width="0.1" >-</text>
<text x="573.15" y="517" font-size="11.02" fill="#9A5A08" textLength="100.72" lengthAdjust="spacingAndGlyphs" stroke="#9A5A08" stroke-width="0.1" >ENST00000429299</text>
<text x="508.31" y="528" font-size="11.02" fill="#9A5A08" textLength="37.27" lengthAdjust="spacingAndGlyphs" stroke="#9A5A08" stroke-width="0.1" >protein</text>
<text x="548.91" y="528" font-size="11.02" fill="#9A5A08" textLength="35.05" lengthAdjust="spacingAndGlyphs" stroke="#9A5A08" stroke-width="0.1" >coding</text>
<text x="386.00" y="449" font-size="10.54" fill="#fff" textLength="57.60" lengthAdjust="spacingAndGlyphs" stroke="#fff" stroke-width="0.1" >AL662801.7</text>
<text x="446.65" y="449" font-size="10.54" fill="#fff" textLength="8.03" lengthAdjust="spacingAndGlyphs" stroke="#fff" stroke-width="0.1" >&gt;</text>
<text x="178.02" y="684" font-size="11.66" fill="#000" textLength="27.59" lengthAdjust="spacingAndGlyphs" stroke="#000" stroke-width="0.1" >CTCF</text>
<text x="177.82" y="703" font-size="11.66" fill="#000" textLength="32.25" lengthAdjust="spacingAndGlyphs" stroke="#000" stroke-width="0.1" >EMAR</text>
<text x="213.64" y="703" font-size="11.66" fill="#000" textLength="83.02" lengthAdjust="spacingAndGlyphs" stroke="#000" stroke-width="0.1" >(epigenetically</text>
<text x="300.22" y="703" font-size="11.66" fill="#000" textLength="49.14" lengthAdjust="spacingAndGlyphs" stroke="#000" stroke-width="0.1" >modified</text>
<text x="352.93" y="703" font-size="11.66" fill="#000" textLength="58.08" lengthAdjust="spacingAndGlyphs" stroke="#000" stroke-width="0.1" >accessible</text>
<text x="414.58" y="703" font-size="11.66" fill="#000" textLength="39.87" lengthAdjust="spacingAndGlyphs" stroke="#000" stroke-width="0.1" >region)</text>
<text x="178.15" y="723" font-size="11.66" fill="#000" textLength="52.02" lengthAdjust="spacingAndGlyphs" stroke="#000" stroke-width="0.1" >enhancer</text>
<text x="177.75" y="742" font-size="11.66" fill="#000" textLength="51.82" lengthAdjust="spacingAndGlyphs" stroke="#000" stroke-width="0.1" >promoter</text>
<text x="177.74" y="762" font-size="11.66" fill="#000" textLength="51.62" lengthAdjust="spacingAndGlyphs" stroke="#000" stroke-width="0.1" >promoter</text>
<text x="232.89" y="762" font-size="11.66" fill="#000" textLength="27.32" lengthAdjust="spacingAndGlyphs" stroke="#000" stroke-width="0.1" >flank</text>
<text x="177.67" y="825" font-size="11.66" fill="#000" textLength="48.09" lengthAdjust="spacingAndGlyphs" stroke="#000" stroke-width="0.1" >Ensembl</text>
<text x="229.32" y="825" font-size="11.66" fill="#000" textLength="39.86" lengthAdjust="spacingAndGlyphs" stroke="#000" stroke-width="0.1" >protein</text>
<text x="272.74" y="825" font-size="11.66" fill="#000" textLength="37.48" lengthAdjust="spacingAndGlyphs" stroke="#000" stroke-width="0.1" >coding</text>
<text x="177.92" y="845" font-size="11.66" fill="#000" textLength="43.16" lengthAdjust="spacingAndGlyphs" stroke="#000" stroke-width="0.1" >merged</text>
<text x="224.62" y="845" font-size="11.66" fill="#000" textLength="94.19" lengthAdjust="spacingAndGlyphs" stroke="#000" stroke-width="0.1" >Ensembl/Havana</text>
<text x="177.81" y="914" font-size="11.66" fill="#000" textLength="23.64" lengthAdjust="spacingAndGlyphs" stroke="#000" stroke-width="0.1" >RNA</text>
<text x="204.98" y="914" font-size="11.66" fill="#000" textLength="27.77" lengthAdjust="spacingAndGlyphs" stroke="#000" stroke-width="0.1" >gene</text>
<text x="149.13" y="806" font-size="12.72" fill="#000" textLength="42.96" lengthAdjust="spacingAndGlyphs" stroke="#000" stroke-width="0.1" >Protein</text>
<text x="195.98" y="806" font-size="12.72" fill="#000" textLength="42.78" lengthAdjust="spacingAndGlyphs" stroke="#000" stroke-width="0.1" >Coding</text>
<text x="149.17" y="894" font-size="12.72" fill="#000" textLength="71.37" lengthAdjust="spacingAndGlyphs" stroke="#000" stroke-width="0.1" >Non-Protein</text>
<text x="224.41" y="894" font-size="12.72" fill="#000" textLength="42.52" lengthAdjust="spacingAndGlyphs" stroke="#000" stroke-width="0.1" >Coding</text>
</svg>
</body></html>
